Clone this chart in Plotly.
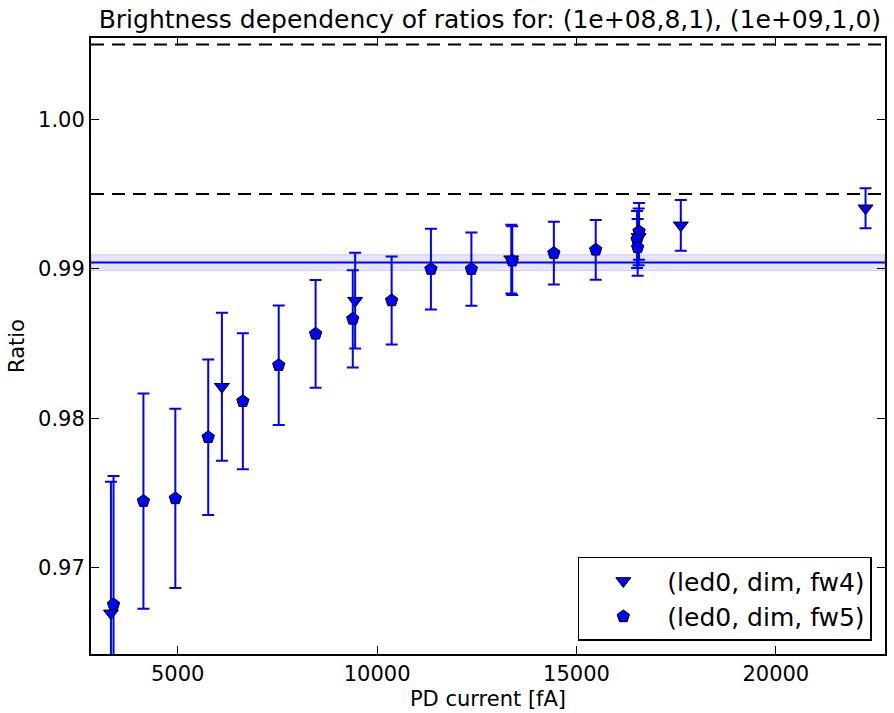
import plotly.graph_objects as go

# fw4 series (downward triangles)
fw4_current = [3325, 6108, 9450, 13365, 16560, 17617, 22250]
fw4_ratio = [0.96695, 0.98211, 0.98787, 0.99064, 0.99213, 0.99291, 0.99405]
fw4_err = [0.0088, 0.00495, 0.0032, 0.0023, 0.0019, 0.0017, 0.00134]

# fw5 series (pentagons)
fw5_current = [3390, 4140, 4940, 5765, 6633, 7533, 8458, 9390, 10365,
               11350, 12365, 13390, 14433, 15483, 16570, 16520, 16535]
fw5_ratio = [0.96754, 0.97446, 0.97464, 0.97873, 0.98114, 0.98355, 0.98565,
             0.98665, 0.98788, 0.98998, 0.98998, 0.99054, 0.99105, 0.99127,
             0.99250, 0.99196, 0.99143]
fw5_err = [0.0086, 0.0072, 0.0060, 0.0052, 0.00455, 0.0040, 0.0036, 0.00326,
           0.00294, 0.0027, 0.00245, 0.0023, 0.0021, 0.0020, 0.0019, 0.0019, 0.0019]

# reference lines
mean_ratio = 0.99042
mean_band = [0.98988, 0.99094]
limit_lines = [1.005, 0.995]

x_range = [2825, 22738]
y_range = [0.96423, 1.00544]
x_ticks = [5000, 10000, 15000, 20000]
y_ticks = [0.97, 0.98, 0.99, 1.00]

FONT = 'DejaVu Sans'

fig = go.Figure()

shapes = [
    dict(type='rect', xref='paper', yref='y', x0=0, x1=1,
         y0=mean_band[0], y1=mean_band[1],
         fillcolor='rgba(0,0,255,0.1)', line=dict(width=1, color='rgba(0,0,200,0.15)'),
         layer='below'),
    dict(type='line', xref='paper', yref='y', x0=0, x1=1,
         y0=mean_ratio, y1=mean_ratio, line=dict(color='#0000ff', width=2),
         layer='below'),
]
for v in limit_lines:
    shapes.append(dict(type='line', xref='paper', yref='y', x0=0, x1=1, y0=v, y1=v,
                       line=dict(color='black', width=2, dash='13px,8px')))

series = [
    ('(led0, dim, fw4)', fw4_current, fw4_ratio, fw4_err, 'triangle-down'),
    ('(led0, dim, fw5)', fw5_current, fw5_ratio, fw5_err, 'pentagon'),
]
for name, xs, ys, es, sym in series:
    fig.add_trace(go.Scatter(
        x=xs, y=ys, mode='markers', name=name,
        marker=dict(symbol=sym, size=13, color='#0000ff',
                    line=dict(color='black', width=1)),
        error_y=dict(type='data', array=es, visible=True, color='#0000ff',
                     thickness=2, width=6),
    ))

axis_common = dict(
    showgrid=False, zeroline=False, showline=True, linecolor='black', linewidth=2,
    mirror='ticks', ticks='inside', ticklen=8, tickcolor='black', tickwidth=1,
    tickfont=dict(family=FONT, size=21, color='black'),
)

fig.update_layout(
    width=894, height=713,
    paper_bgcolor='white', plot_bgcolor='white',
    margin=dict(l=91, r=6.5, t=38, b=59),
    font=dict(family=FONT, color='black'),
    title=dict(text='Brightness dependency of ratios for: (1e+08,8,1), (1e+09,1,0)',
               x=0.548, xanchor='center', yref='container', y=0.973, yanchor='middle',
               font=dict(family=FONT, size=25, color='black')),
    xaxis=dict(range=x_range, tickvals=x_ticks, ticktext=[str(t) for t in x_ticks],
               title=dict(text='PD current [fA]', font=dict(family=FONT, size=21), standoff=6),
               **axis_common),
    yaxis=dict(range=y_range, tickvals=y_ticks, tickformat='.2f',
               title=dict(text='Ratio', font=dict(family=FONT, size=21), standoff=8),
               **axis_common),
    legend=dict(x=0.9834, y=0.0216, xanchor='right', yanchor='bottom',
                bgcolor='white', bordercolor='black', borderwidth=1.5,
                font=dict(family=FONT, size=25, color='black'),
                itemwidth=78),
    shapes=shapes,
    showlegend=True,
)

# drop the default 8px page margin so the figure fills the window exactly
fig.write_html("out.html", config={'displayModeBar': False},
               post_script="document.body.style.margin='0';")
